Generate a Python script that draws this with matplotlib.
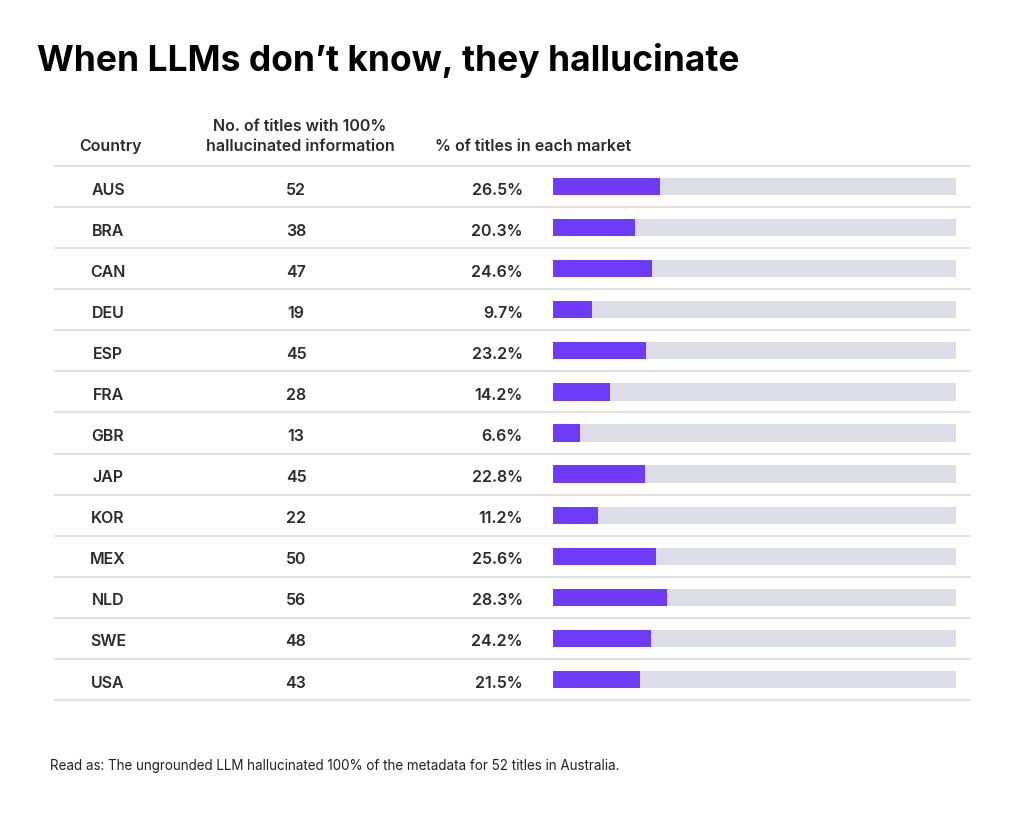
import matplotlib
matplotlib.use("Agg")
import matplotlib.pyplot as plt
from matplotlib.transforms import blended_transform_factory

# ── Данные ────────────────────────────────────────────────────────────────
countries = ["AUS", "BRA", "CAN", "DEU", "ESP", "FRA", "GBR",
             "JAP", "KOR", "MEX", "NLD", "SWE", "USA"]
titles = [52, 38, 47, 19, 45, 28, 13, 45, 22, 50, 56, 48, 43]
share = [26.5, 20.3, 24.6, 9.7, 23.2, 14.2, 6.6, 22.8, 11.2, 25.6, 28.3, 24.2, 21.5]

W, H = 1024, 822
PURPLE = "#6F3BFA"
TRACK = "#DCDDE6"
GRID = "#D6D6DD"
TEXT = "#2B2B2B"

plt.rcParams["font.family"] = ["Inter", "DejaVu Sans"]

fig = plt.figure(figsize=(W / 100, H / 100), dpi=100)
fig.patch.set_facecolor("white")

# bar area: x 553..956 px, y rows between 166..700 px
ax = fig.add_axes([553 / W, 1 - 700 / H, (956 - 553) / W, (700 - 166) / H])
ax.set_xlim(0, 100)
ax.set_ylim(len(countries) - 0.5, -0.5)
ax.axis("off")

ys = range(len(countries))
ax.barh(ys, [100] * len(countries), height=0.42, color=TRACK, zorder=1)
ax.barh(ys, share, height=0.42, color=PURPLE, zorder=2)

tr = blended_transform_factory(fig.transFigure, ax.transData)

# separators
for y in [i - 0.5 for i in range(len(countries) + 1)]:
    ax.plot([55 / W, 970 / W], [y, y], transform=tr, color=GRID,
            lw=1.1, clip_on=False, zorder=0)

for i, (c, n, p) in enumerate(zip(countries, titles, share)):
    ax.text(108 / W, i + 0.05, c, transform=tr, ha="center", va="center_baseline",
            fontsize=11.5, weight="semibold", color=TEXT)
    ax.text(296 / W, i + 0.05, str(n), transform=tr, ha="center", va="center_baseline",
            fontsize=11.5, weight="semibold", color=TEXT)
    ax.text(523 / W, i + 0.05, f"{p:.1f}%", transform=tr, ha="right", va="center_baseline",
            fontsize=11.5, weight="semibold", color=TEXT)

# headers
fig.text(110 / W, 1 - 145 / H, "Country", ha="center", va="center_baseline",
         fontsize=11.5, weight="semibold", color=TEXT)
fig.text(300 / W, 1 - 125 / H, "No. of titles with 100%", ha="center",
         va="center_baseline", fontsize=11.5, weight="semibold", color=TEXT)
fig.text(300 / W, 1 - 145 / H, "hallucinated information", ha="center",
         va="center_baseline", fontsize=11.5, weight="semibold", color=TEXT)
fig.text(435 / W, 1 - 145 / H, "% of titles in each market", ha="left", va="center_baseline",
         fontsize=11.5, weight="semibold", color=TEXT)

fig.text(37 / W, 1 - 60 / H, "When LLMs don\u2019t know, they hallucinate",
         ha="left", va="center", fontsize=25.5, weight="bold", color="black")

fig.text(50 / W, 1 - 766 / H,
         "Read as: The ungrounded LLM hallucinated 100% of the metadata for 52 titles in Australia.",
         ha="left", va="center", fontsize=9.7, color="#222222")

fig.savefig("out.png", dpi=100, facecolor=fig.get_facecolor())
